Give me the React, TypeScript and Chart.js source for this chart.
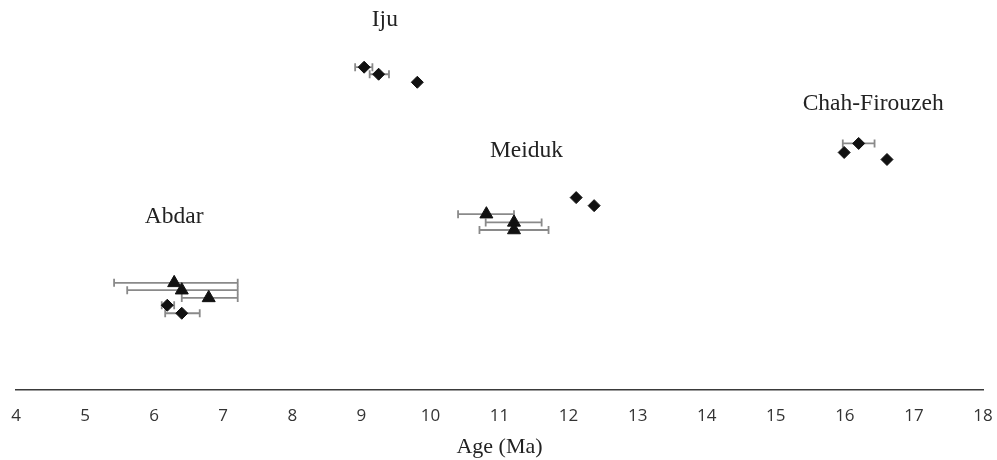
import React, { useEffect, useRef } from "react";
import { Chart, registerables } from "chart.js";

Chart.register(...registerables);

// Diamond markers (age in Ma, row position, error bar low/high)
const diamondAge = [6.19, 6.4, 9.04, 9.25, 9.81, 12.11, 12.37, 15.99, 16.2, 16.61];
const diamondRow = [84.7, 76.7, 322, 315, 307, 192, 184, 237, 246, 230];
const diamondLow = [6.11, 6.16, 8.91, 9.12, null, null, null, null, 15.97, null];
const diamondHigh = [6.29, 6.66, 9.16, 9.4, null, null, null, null, 16.43, null];

// Triangle markers
const triangleAge = [6.29, 6.4, 6.79, 10.81, 11.21, 11.21];
const triangleRow = [107, 99.7, 92, 175.5, 167.3, 159.7];
const triangleLow = [5.42, 5.61, 6.4, 10.4, 10.8, 10.71];
const triangleHigh = [7.21, 7.21, 7.21, 11.21, 11.61, 11.71];

// Group labels
const groupNames = ["Iju", "Meiduk", "Chah-Firouzeh", "Abdar"];
const groupAge = [9.34, 11.39, 16.41, 6.29];
const groupRow = [363, 232.3, 279, 166.3];

const xTicksMin = 4;
const xTicksMax = 18;
const xTitle = "Age (Ma)";

const ERR_COLOR = "#8a8a8a";

function errorDatasets(ages: number[], rows: number[], lows: (number | null)[], highs: (number | null)[]) {
  const out: any[] = [];
  ages.forEach((_, i) => {
    const lo = lows[i];
    const hi = highs[i];
    if (lo == null || hi == null) return;
    out.push({
      type: "line",
      data: [
        { x: lo, y: rows[i] },
        { x: hi, y: rows[i] },
      ],
      showLine: true,
      borderColor: ERR_COLOR,
      borderWidth: 1.8,
      pointStyle: "line",
      pointRotation: 90,
      pointRadius: 4,
      pointBorderColor: ERR_COLOR,
      pointBorderWidth: 1.8,
      pointHoverRadius: 4,
      order: 2,
    });
  });
  return out;
}

const labelPlugin = {
  id: "groupLabels",
  afterDatasetsDraw(chart: any) {
    const { ctx, scales } = chart;
    ctx.save();
    ctx.fillStyle = "#222";
    ctx.font = '23.5px "Liberation Serif", "Times New Roman", serif';
    ctx.textAlign = "center";
    ctx.textBaseline = "alphabetic";
    groupNames.forEach((name, i) => {
      ctx.fillText(name, scales.x.getPixelForValue(groupAge[i]), scales.y.getPixelForValue(groupRow[i]));
    });
    ctx.restore();
  },
};

export default function App() {
  const canvasRef = useRef<HTMLCanvasElement | null>(null);

  useEffect(() => {
    document.body.style.margin = "0";
    const canvas = canvasRef.current!;
    const chart = new Chart(canvas, {
      type: "scatter",
      data: {
        datasets: [
          ...errorDatasets(diamondAge, diamondRow, diamondLow, diamondHigh),
          ...errorDatasets(triangleAge, triangleRow, triangleLow, triangleHigh),
          {
            type: "scatter",
            data: diamondAge.map((x, i) => ({ x, y: diamondRow[i] })),
            pointStyle: "rectRot",
            pointRadius: 6,
            backgroundColor: "#111",
            borderColor: "#111",
            borderWidth: 1,
            order: 0,
          },
          {
            type: "scatter",
            data: triangleAge.map((x, i) => ({ x, y: triangleRow[i] })),
            pointStyle: "triangle",
            pointRadius: 7.5,
            backgroundColor: "#111",
            borderColor: "#111",
            borderWidth: 1,
            order: 0,
          },
        ] as any,
      },
      options: {
        animation: false,
        responsive: false,
        devicePixelRatio: 1,
        layout: { autoPadding: false, padding: { left: 16, right: 14, top: 0, bottom: 0 } },
        plugins: { legend: { display: false }, tooltip: { enabled: false } },
        scales: {
          x: {
            type: "linear",
            min: xTicksMin,
            max: xTicksMax,
            afterFit: (s: any) => {
              s.paddingLeft = 0;
              s.paddingRight = 0;
            },
            grid: { display: false, drawTicks: false },
            border: { display: true, color: "#3a3a3a", width: 1.5 },
            ticks: {
              stepSize: 1,
              padding: 16,
              color: "#333",
              font: { family: '"Open Sans", sans-serif', size: 17 },
            },
            title: {
              display: true,
              text: xTitle,
              color: "#222",
              font: { family: '"Liberation Serif", "Times New Roman", serif', size: 22 },
              padding: { top: -9, bottom: 0 },
            },
          },
          y: {
            type: "linear",
            min: 0,
            max: 389,
            display: false,
          },
        },
      },
      plugins: [labelPlugin],
    });
    return () => chart.destroy();
  }, []);

  return (
    <div style={{ position: "absolute", left: 0, top: 0, width: 997, height: 460 }}>
      <canvas ref={canvasRef} width={997} height={460} style={{ display: "block" }} />
    </div>
  );
}
